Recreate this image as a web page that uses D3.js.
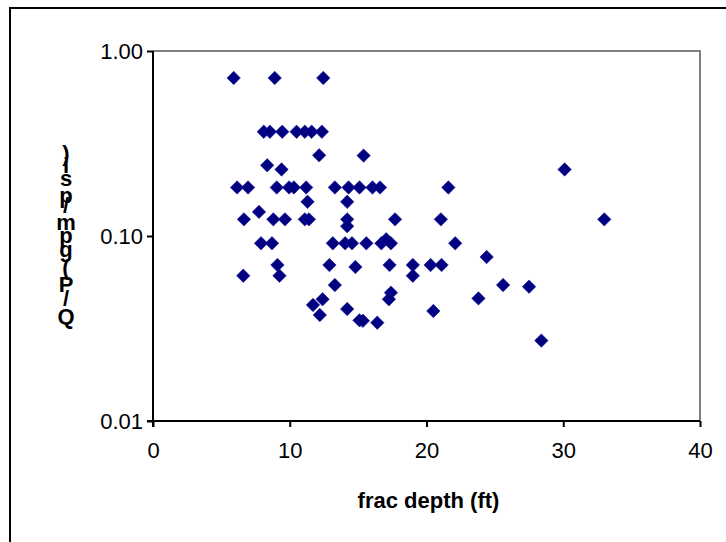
<!DOCTYPE html>
<html>
<head>
<meta charset="utf-8">
<script src="https://cdn.jsdelivr.net/npm/d3@7"></script>
<style>
  body { margin: 0; background: #fff; }
  text { font-family: Arial, "Liberation Sans", sans-serif; }
</style>
</head>
<body>
<svg id="chart" width="726" height="542"></svg>
<script>
// frac depth (ft)
var depth = [
    5.9, 8.9, 12.45,
    8.1, 8.55, 9.45, 10.5, 11.1, 11.6, 12.35,
    12.15, 15.4, 8.35, 9.4, 30.1,
    6.15, 6.95, 9.05, 9.95, 10.3, 11.2, 13.3, 14.3, 15.1, 16.05, 16.6, 21.6,
    11.3, 14.2, 7.75,
    6.65, 8.8, 9.65, 11.1, 11.4, 14.2, 17.7, 21.05, 33.0,
    14.2,
    7.9, 8.7, 13.15, 14.05, 14.55, 15.6, 16.7, 17.05, 17.4, 22.1,
    24.4,
    9.1, 12.9, 14.8, 17.3, 19.0, 20.3, 21.1,
    6.6, 9.25, 19.0,
    13.3, 25.6, 27.5,
    17.4, 12.4, 17.25, 23.8,
    11.7, 14.2, 20.5, 12.2,
    15.1, 15.35, 16.4, 28.4
];
// Q/P (gpm/psi)
var qp = [
    0.715, 0.715, 0.715,
    0.366, 0.366, 0.366, 0.366, 0.366, 0.366, 0.366,
    0.273, 0.272, 0.241, 0.229, 0.229,
    0.183, 0.183, 0.183, 0.183, 0.183, 0.183, 0.183, 0.183, 0.183, 0.183, 0.183, 0.183,
    0.153, 0.153, 0.135,
    0.123, 0.123, 0.123, 0.123, 0.123, 0.123, 0.123, 0.123, 0.123,
    0.113,
    0.0913, 0.0913, 0.0913, 0.0913, 0.0913, 0.0913, 0.0913, 0.096, 0.0913, 0.0913,
    0.077,
    0.0697, 0.0697, 0.068, 0.0697, 0.0697, 0.0697, 0.0697,
    0.061, 0.061, 0.061,
    0.0543, 0.0543, 0.0532,
    0.0494, 0.0455, 0.0455, 0.046,
    0.0424, 0.0403, 0.0393, 0.0374,
    0.035, 0.0348, 0.034, 0.0272
];
var xTicks = [0, 10, 20, 30, 40];
var yTicks = [1, 0.1, 0.01];
var xTitle = "frac depth (ft)";
var yTitle = "Q/P (gpm/psi)";

var plot = { left: 153, right: 700, top: 51, bottom: 421 };

var svg = d3.select("#chart");

// outer chart frame (runs off the canvas at right and bottom)
svg.append("rect")
    .attr("x", 10).attr("y", 8)
    .attr("width", 800).attr("height", 600)
    .style("fill", "none")
    .style("stroke", "#000")
    .style("stroke-width", 2);

var x = d3.scaleLinear().domain([0, 40]).range([plot.left, plot.right]);
var y = d3.scaleLog().domain([0.01, 1]).range([plot.bottom, plot.top]);

// top and right edges of plot area
svg.append("path")
    .attr("d", "M" + plot.left + "," + plot.top + "H" + plot.right + "V" + plot.bottom)
    .style("fill", "none")
    .style("stroke", "#808080")
    .style("stroke-width", 2);

svg.append("g")
    .attr("transform", "translate(0," + plot.bottom + ")")
    .call(d3.axisBottom(x).tickValues(xTicks).tickSize(6).tickPadding(15).tickSizeOuter(0))
    .call(g => g.select(".domain").attr("d", "M" + (plot.left - 6) + ",0H" + plot.right).style("stroke-width", 2))
    .call(g => g.selectAll(".tick line").style("stroke-width", 2))
    .call(g => g.selectAll(".tick text").style("font-size", "22px").attr("fill", "#000"));

svg.append("g")
    .attr("transform", "translate(" + plot.left + ",0)")
    .call(d3.axisLeft(y).tickValues(yTicks).tickFormat(d3.format(".2f")).tickSize(6).tickPadding(4).tickSizeOuter(0))
    .call(g => g.select(".domain").attr("d", "M0," + plot.top + "V" + (plot.bottom + 6)).style("stroke-width", 2))
    .call(g => g.selectAll(".tick line").style("stroke-width", 2))
    .call(g => g.selectAll(".tick text").style("font-size", "22px").attr("fill", "#000"));

// x-axis title
svg.append("text")
    .attr("x", (plot.left + plot.right) / 2 + 2)
    .attr("y", 508)
    .attr("text-anchor", "middle")
    .style("font-size", "22px")
    .style("font-weight", "bold")
    .text(xTitle);

// y-axis title: characters stacked bottom to top, as in the original
var yTitleBase = [324, 306, 292, 282, 275, 257, 243, 230, 213, 203, 186, 173, 161];
svg.append("g")
    .selectAll("text")
    .data(yTitle.split(""))
    .enter().append("text")
    .attr("x", 66)
    .attr("y", (d, i) => yTitleBase[i])
    .attr("text-anchor", "middle")
    .style("font-size", "22px")
    .style("font-weight", "bold")
    .text(d => d);

// points
var diamond = d3.symbol().type(d3.symbolSquare).size(90);
svg.append("g")
    .selectAll("path")
    .data(depth.map((d, i) => [d, qp[i]]))
    .enter().append("path")
    .attr("d", diamond)
    .attr("transform", d => "translate(" + x(d[0]) + "," + y(d[1]) + ") rotate(45)")
    .style("fill", "#000080")
    .style("stroke", "#1a1a99")
    .style("stroke-width", 0.6);
</script>
</body>
</html>
